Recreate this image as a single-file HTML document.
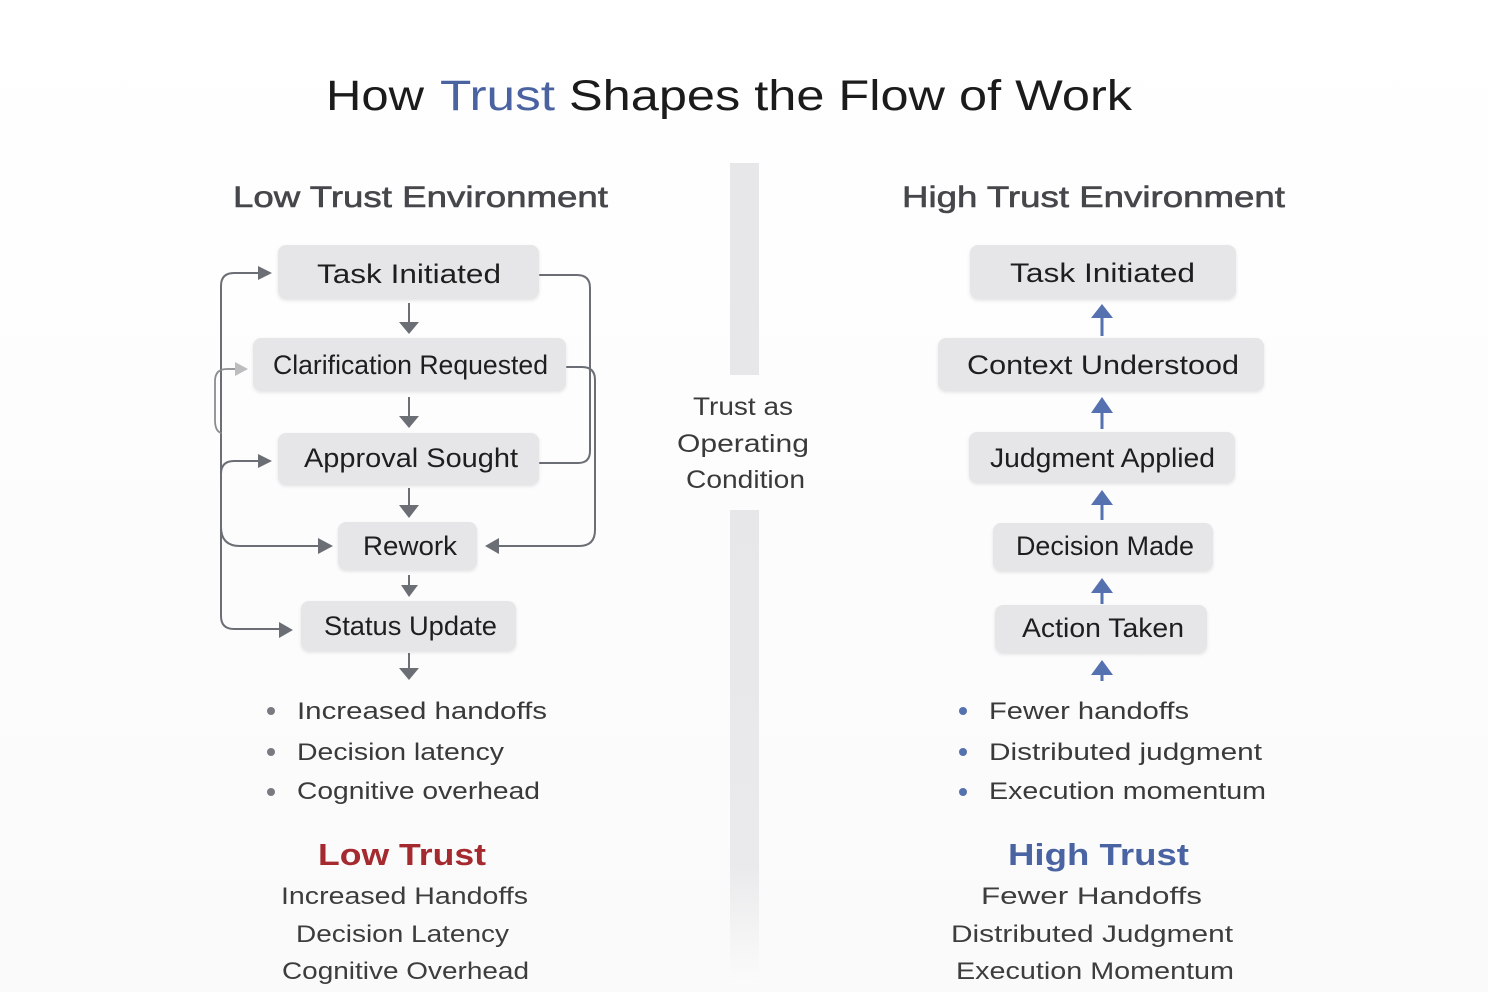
<!DOCTYPE html>
<html>
<head>
<meta charset="utf-8">
<style>
  html,body{margin:0;padding:0;background:#fcfcfc;}
  svg{display:block;}
  text{font-family:"Liberation Sans",sans-serif;}
</style>
</head>
<body>
<svg width="1488" height="992" viewBox="0 0 1488 992" xmlns="http://www.w3.org/2000/svg">
  <defs>
    <linearGradient id="bg" x1="0" y1="0" x2="0" y2="1">
      <stop offset="0" stop-color="#ffffff"/>
      <stop offset="1" stop-color="#fafafa"/>
    </linearGradient>
    <linearGradient id="divfade" x1="0" y1="0" x2="0" y2="1">
      <stop offset="0" stop-color="#e7e7e9"/>
      <stop offset="0.75" stop-color="#eaeaec"/>
      <stop offset="1" stop-color="#fbfbfb"/>
    </linearGradient>
    <filter id="sh" x="-10%" y="-20%" width="120%" height="150%">
      <feDropShadow dx="0" dy="1.5" stdDeviation="1.5" flood-color="#000" flood-opacity="0.10"/>
    </filter>
  </defs>

  <rect x="0" y="0" width="1488" height="992" fill="url(#bg)"/>

  <!-- Title -->
  <text x="326" y="110" font-size="43" fill="#1b1b1b" textLength="98" lengthAdjust="spacingAndGlyphs">How</text>
  <text x="440" y="110" font-size="43" fill="#4a63a0" textLength="115" lengthAdjust="spacingAndGlyphs">Trust</text>
  <text x="569" y="110" font-size="43" fill="#1b1b1b" textLength="563" lengthAdjust="spacingAndGlyphs">Shapes the Flow of Work</text>

  <!-- Headers -->
  <text x="233" y="207" font-size="30" fill="#45474b" stroke="#45474b" stroke-width="0.6" textLength="375" lengthAdjust="spacingAndGlyphs">Low Trust Environment</text>
  <text x="902" y="207" font-size="30" fill="#45474b" stroke="#45474b" stroke-width="0.6" textLength="383" lengthAdjust="spacingAndGlyphs">High Trust Environment</text>

  <!-- Divider -->
  <rect x="730" y="163" width="29" height="212" fill="#e7e7e9"/>
  <rect x="730" y="510" width="29" height="475" fill="url(#divfade)"/>
  <text x="693" y="415" font-size="25" fill="#3a3a3a" textLength="100" lengthAdjust="spacingAndGlyphs">Trust as</text>
  <text x="677" y="452" font-size="25" fill="#3a3a3a" textLength="132" lengthAdjust="spacingAndGlyphs">Operating</text>
  <text x="686" y="488" font-size="25" fill="#3a3a3a" textLength="119" lengthAdjust="spacingAndGlyphs">Condition</text>

  <!-- LEFT connectors -->
  <g fill="none" stroke="#6b6e74" stroke-width="2" stroke-linecap="round" stroke-linejoin="round">
    <!-- main loop: Status Update up to Task Initiated -->
    <path d="M280,629 H234 Q221,629 221,616 V286 Q221,273 234,273 H260"/>
    <!-- Rework <- ... -> Approval -->
    <path d="M320,546 H240 Q221,546 221,527 V474 Q221,461 234,461 H260"/>
    <!-- right: Task Initiated line merging with Approval -->
    <path d="M540,275 H577 Q590,275 590,288 V451 Q590,463 578,463 H540"/>
    <!-- right: Clarification to Rework -->
    <path d="M567,367 H582 Q595,367 595,380 V530 Q595,546 579,546 H498"/>
  </g>
  <!-- light gray clarification loop -->
  <path d="M237,369 H227 Q215,369 215,381 V420 Q215,431 221,433" fill="none" stroke="#8a8c90" stroke-width="1.8" stroke-linecap="round"/>

  <g fill="#6b6e74">
    <!-- left arrowheads pointing right -->
    <polygon points="258,266 272,273 258,280"/>
    <polygon points="258,454 272,461 258,468"/>
    <polygon points="318,538 333,546 318,554"/>
    <polygon points="279,622 293,630 279,638"/>
    <!-- arrowhead pointing left into Rework -->
    <polygon points="499,538 485,546 499,554"/>
  </g>
  <polygon points="235,362 248,369 235,376" fill="#bdbdc0"/>

  <!-- left down arrows -->
  <g stroke="#6b6e74" stroke-width="2">
    <line x1="409" y1="303" x2="409" y2="324"/>
    <line x1="409" y1="397" x2="409" y2="418"/>
    <line x1="409" y1="488" x2="409" y2="507"/>
    <line x1="409" y1="575" x2="409" y2="587"/>
    <line x1="409" y1="653" x2="409" y2="670"/>
  </g>
  <g fill="#6b6e74">
    <polygon points="399,322 419,322 409,334"/>
    <polygon points="399,416 419,416 409,428"/>
    <polygon points="399,505 419,505 409,518"/>
    <polygon points="401,585 418,585 409,597"/>
    <polygon points="399,668 419,668 409,680"/>
  </g>

  <!-- LEFT nodes -->
  <g fill="#e6e6e8" filter="url(#sh)">
    <rect x="278" y="245" width="261" height="54" rx="8"/>
    <rect x="253" y="338" width="313" height="53" rx="8"/>
    <rect x="278" y="433" width="261" height="52" rx="8"/>
    <rect x="338" y="522" width="139" height="48" rx="8"/>
    <rect x="301" y="601" width="215" height="50" rx="8"/>
  </g>
  <g font-size="27" fill="#1e1e1e">
    <text x="317" y="283" textLength="184" lengthAdjust="spacingAndGlyphs">Task Initiated</text>
    <text x="273" y="374" textLength="275" lengthAdjust="spacingAndGlyphs">Clarification Requested</text>
    <text x="304" y="467" textLength="214" lengthAdjust="spacingAndGlyphs">Approval Sought</text>
    <text x="363" y="555" textLength="94" lengthAdjust="spacingAndGlyphs">Rework</text>
    <text x="324" y="635" textLength="173" lengthAdjust="spacingAndGlyphs">Status Update</text>
  </g>

  <!-- RIGHT nodes -->
  <g fill="#e6e6e8" filter="url(#sh)">
    <rect x="970" y="245" width="266" height="54" rx="8"/>
    <rect x="938" y="338" width="326" height="53" rx="8"/>
    <rect x="969" y="432" width="266" height="51" rx="8"/>
    <rect x="993" y="523" width="220" height="48" rx="8"/>
    <rect x="995" y="605" width="212" height="48" rx="8"/>
  </g>
  <g font-size="27" fill="#1e1e1e">
    <text x="1010" y="282" textLength="185" lengthAdjust="spacingAndGlyphs">Task Initiated</text>
    <text x="967" y="374" textLength="272" lengthAdjust="spacingAndGlyphs">Context Understood</text>
    <text x="990" y="467" textLength="225" lengthAdjust="spacingAndGlyphs">Judgment Applied</text>
    <text x="1016" y="555" textLength="178" lengthAdjust="spacingAndGlyphs">Decision Made</text>
    <text x="1022" y="637" textLength="162" lengthAdjust="spacingAndGlyphs">Action Taken</text>
  </g>

  <!-- right up arrows -->
  <g stroke="#5571b0" stroke-width="3">
    <line x1="1102" y1="316" x2="1102" y2="336"/>
    <line x1="1102" y1="411" x2="1102" y2="429"/>
    <line x1="1102" y1="503" x2="1102" y2="520"/>
    <line x1="1102" y1="591" x2="1102" y2="604"/>
    <line x1="1102" y1="673" x2="1102" y2="681"/>
  </g>
  <g fill="#5571b0">
    <polygon points="1091,318 1113,318 1102,304"/>
    <polygon points="1091,413 1113,413 1102,397"/>
    <polygon points="1091,505 1113,505 1102,490"/>
    <polygon points="1091,593 1113,593 1102,578"/>
    <polygon points="1091,675 1113,675 1102,660"/>
  </g>

  <!-- LEFT bullets -->
  <g fill="#7a7b80">
    <circle cx="271" cy="711" r="4"/>
    <circle cx="271" cy="752" r="4"/>
    <circle cx="271" cy="792" r="4"/>
  </g>
  <g font-size="24" fill="#3a3a3a">
    <text x="297" y="719" textLength="250" lengthAdjust="spacingAndGlyphs">Increased handoffs</text>
    <text x="297" y="760" textLength="207" lengthAdjust="spacingAndGlyphs">Decision latency</text>
    <text x="297" y="799" textLength="243" lengthAdjust="spacingAndGlyphs">Cognitive overhead</text>
  </g>

  <!-- RIGHT bullets -->
  <g fill="#5571b0">
    <circle cx="963" cy="711" r="4"/>
    <circle cx="963" cy="752" r="4"/>
    <circle cx="963" cy="792" r="4"/>
  </g>
  <g font-size="24" fill="#3a3a3a">
    <text x="989" y="719" textLength="200" lengthAdjust="spacingAndGlyphs">Fewer handoffs</text>
    <text x="989" y="760" textLength="273" lengthAdjust="spacingAndGlyphs">Distributed judgment</text>
    <text x="989" y="799" textLength="277" lengthAdjust="spacingAndGlyphs">Execution momentum</text>
  </g>

  <!-- Summaries -->
  <text x="318" y="865" font-size="31" font-weight="bold" fill="#a52a2f" textLength="168" lengthAdjust="spacingAndGlyphs">Low Trust</text>
  <text x="1008" y="865" font-size="31" font-weight="bold" fill="#4a64a3" textLength="181" lengthAdjust="spacingAndGlyphs">High Trust</text>
  <g font-size="24" fill="#3d3d3d">
    <text x="281" y="904" textLength="247" lengthAdjust="spacingAndGlyphs">Increased Handoffs</text>
    <text x="296" y="942" textLength="213" lengthAdjust="spacingAndGlyphs">Decision Latency</text>
    <text x="282" y="979" textLength="247" lengthAdjust="spacingAndGlyphs">Cognitive Overhead</text>
    <text x="981" y="904" textLength="221" lengthAdjust="spacingAndGlyphs">Fewer Handoffs</text>
    <text x="951" y="942" textLength="282" lengthAdjust="spacingAndGlyphs">Distributed Judgment</text>
    <text x="956" y="979" textLength="278" lengthAdjust="spacingAndGlyphs">Execution Momentum</text>
  </g>
</svg>
</body>
</html>
